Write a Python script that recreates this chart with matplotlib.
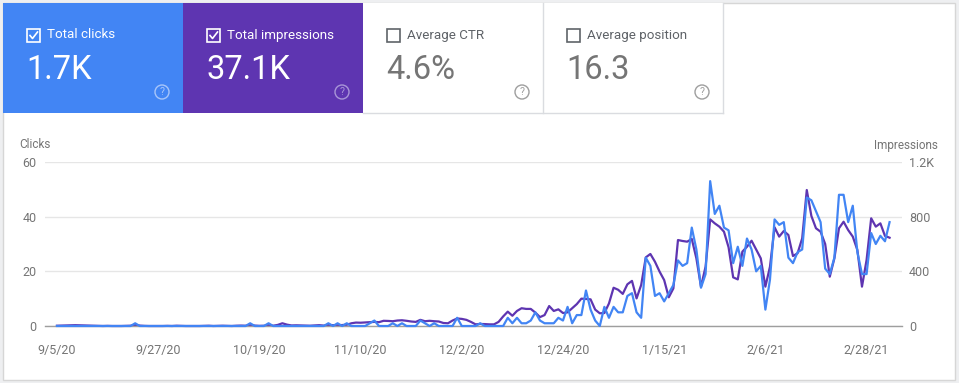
import matplotlib
matplotlib.use("Agg")
import matplotlib.pyplot as plt
import numpy as np
from matplotlib.patches import Rectangle, Ellipse
from matplotlib.lines import Line2D

plt.rcParams['font.family'] = ['Roboto', 'DejaVu Sans']

# daily values, 9/5/20 .. 3/5/21
clicks = ([0] * 17 + [1] + [0] * 24 + [1] + [0, 0, 0] + [1] + [0] * 12 +
          [1, 0, 1, 0, 1, 0, 0, 0, 0, 1, 2, 0, 0, 0, 1, 0, 1, 0, 0, 0,
           2, 1, 0, 1, 0, 0, 0, 0, 3, 0, 0, 0, 0, 1, 0, 0, 0, 0, 0] +
          [3, 1, 3, 1, 1, 2, 5, 2, 1, 1, 1, 3, 2, 7, 1, 4, 4, 13, 6, 2,
           0, 7, 3, 7, 5, 5, 11, 12, 5, 3, 25, 22, 11, 12, 9, 12, 15, 24, 22, 23,
           36, 28, 14, 19, 53, 41, 44, 36, 35, 23, 29, 22, 32, 28, 20, 22, 6, 17, 39, 37,
           38, 25, 23, 27, 28, 47, 46, 42, 38, 21, 19, 25, 48, 48, 38, 44, 27, 19, 19, 34,
           30, 33, 31, 38])

impressions = [2, 3, 4, 5, 6, 5, 4, 3, 2, 1,
               0, 1, 0, 0, 0, 1, 2, 8, 3, 1,
               0, 0, 0, 0, 1, 0, 2, 1, 0, 0,
               0, 0, 1, 2, 0, 1, 2, 1, 0, 2,
               3, 2, 6, 3, 1, 2, 6, 2, 8, 20,
               10, 4, 5, 4, 3, 2, 4, 6, 3, 8,
               6, 5, 7, 9,
               20, 25, 24, 26, 28, 30, 28, 38, 37, 35,
               40, 42, 38, 33, 30, 45, 35, 38, 35, 33,
               22, 20, 40, 55, 52, 45, 30, 12, 15, 14,
               12, 12, 30, 70, 105, 75, 110, 130, 125, 125,
               98, 65, 80, 146, 110, 122, 95, 100, 130, 160,
               200, 198, 195, 120, 93, 95, 165, 280, 265, 235,
               305, 330, 202, 300, 502, 527, 470, 398, 336, 210,
               275, 629, 622, 617, 637, 495, 288, 434, 780, 751,
               727, 690, 576, 356, 341, 544, 580, 624, 560, 495,
               288, 434, 722, 654, 695, 666, 512, 532, 641, 995,
               805, 715, 690, 600, 361, 495, 715, 763, 702, 654,
               556, 288, 483, 788, 727, 751, 659, 646]

date_labels = ['9/5/20', '9/27/20', '10/19/20', '11/10/20', '12/2/20',
               '12/24/20', '1/15/21', '2/6/21', '2/28/21']

card_titles = ['Total clicks', 'Total impressions', 'Average CTR', 'Average position']
card_values = ['1.7K', '37.1K', '4.6%', '16.3']

W, H = 959, 383
fig = plt.figure(figsize=(W / 100, H / 100), dpi=100)
fig.patch.set_facecolor('#eeeff1')


def fx(x):
    return x / W


def fy(y):
    return 1 - y / H


fig.add_artist(Rectangle((fx(3), fy(380)), 952 / W, 377 / H, transform=fig.transFigure,
                         facecolor='white', edgecolor='#d6d6d6', lw=1, zorder=-5))

# metric cards
card_x = [3, 183, 363, 543]
card_w = [180, 180, 180, 180]
card_bg = ['#4285f4', '#5e35b1', 'white', 'white']
for k in range(4):
    x0 = card_x[k]
    on = k < 2
    fig.add_artist(Rectangle((fx(x0), fy(113)), card_w[k] / W, 110 / H, transform=fig.transFigure,
                             facecolor=card_bg[k], edgecolor='none', zorder=-4))
    fg = 'white' if on else '#5f6368'
    box_c = 'white' if on else '#5f6368'
    bx = x0 + 24
    fig.add_artist(Rectangle((fx(bx), fy(42)), 13 / W, 13 / H, transform=fig.transFigure,
                             fill=False, edgecolor=box_c, lw=1.2))
    if on:
        fig.add_artist(Line2D([fx(bx + 3), fx(bx + 5.5), fx(bx + 10.5)],
                              [fy(35.5), fy(38.5), fy(32)], transform=fig.transFigure,
                              color='white', lw=1.2))
    fig.text(fx(bx + 20), fy(35), card_titles[k], color=fg, fontsize=9.6,
             ha='left', va='center')
    fig.text(fx(bx - 1), fy(70), card_values[k], color='white' if on else '#757575',
             fontsize=23.5, ha='left', va='center')
    ic = {0: '#a8c6fa', 1: '#a996d8'}.get(k, '#9e9e9e')
    cx = x0 + 159
    fig.add_artist(Ellipse((fx(cx), fy(92)), 14 / W, 14 / H, transform=fig.transFigure,
                           fill=False, edgecolor=ic, lw=1))
    fig.text(fx(cx), fy(92), '?', color=ic, fontsize=7.5, ha='center', va='center')

# card borders on the white cards
fig.add_artist(Line2D([fx(363), fx(722.5)], [fy(112.5), fy(112.5)],
                      transform=fig.transFigure, color='#dadce0', lw=1))
for xb in (542.5, 722.5):
    fig.add_artist(Line2D([fx(xb), fx(xb)], [fy(3), fy(112.5)],
                          transform=fig.transFigure, color='#dadce0', lw=1))

# chart
day = np.arange(len(clicks))
ax = fig.add_axes([fx(45), fy(326), (902 - 45) / W, (326 - 162) / H])
ax2 = ax.twinx()
ax2.set_zorder(1)
ax.set_zorder(2)
ax.patch.set_visible(False)

ax2.plot(day, impressions, color='#5e35b1', lw=1.6, clip_on=False)
ax.plot(day, clicks, color='#4285f4', lw=1.6, clip_on=False)

ax.set_xlim(-2.6, 183.7)
ax.set_ylim(0, 60)
ax2.set_ylim(0, 1200)
ax.set_yticks([0, 20, 40, 60])
ax2.set_yticks([0, 400, 800, 1200], ['0', '400', '800', '1.2K'])
ax.set_xticks(day[::22], date_labels)
ax2.yaxis.grid(True, color='#e6e6e6', lw=1)
ax2.axhline(0, color='#9e9e9e', lw=1, clip_on=False)
for a in (ax, ax2):
    for s in a.spines.values():
        s.set_visible(False)
ax.tick_params(axis='y', length=0, pad=6, labelsize=9, labelcolor='#757575')
ax.tick_params(axis='x', length=0, pad=13, labelsize=9, labelcolor='#757575')
ax2.tick_params(axis='y', length=0, pad=5, labelsize=9, labelcolor='#757575')

fig.text(fx(19), fy(145), 'Clicks', color='#757575', fontsize=8.5, ha='left', va='center')
fig.text(fx(938), fy(145), 'Impressions', color='#757575', fontsize=8.5, ha='right', va='center')

fig.savefig('out.png', dpi=100)
